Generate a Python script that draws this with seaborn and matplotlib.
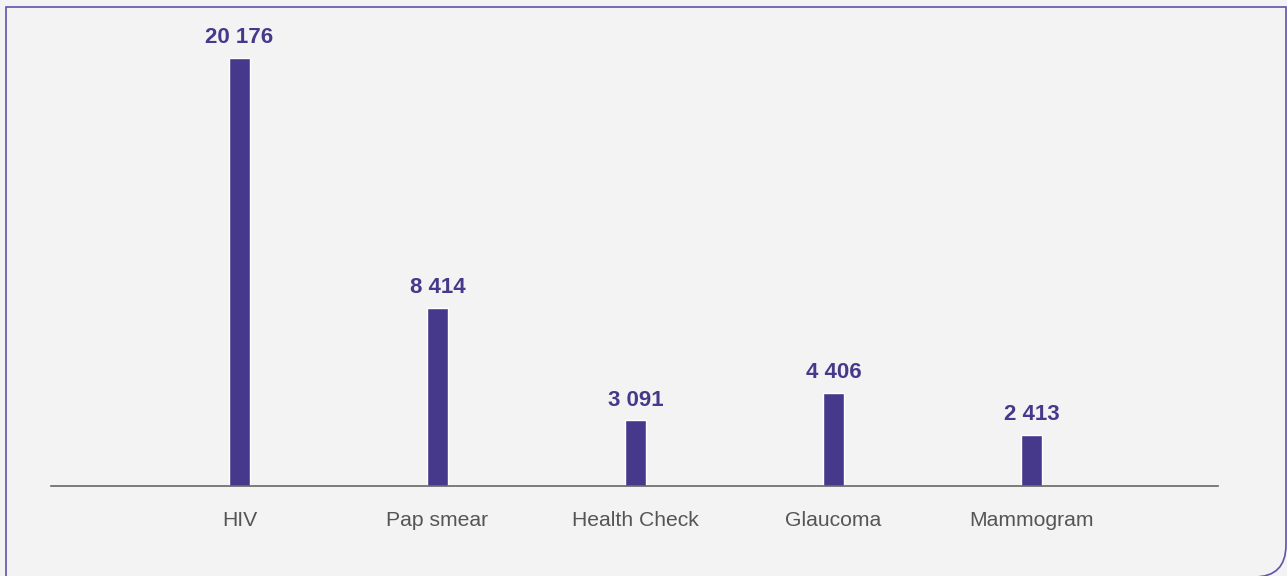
import pandas as pd
import matplotlib
matplotlib.use('Agg')
import matplotlib.pyplot as plt
import seaborn as sns
from matplotlib.path import Path
from matplotlib.patches import PathPatch

# Chart data
categories = ['HIV', 'Pap smear', 'Health Check', 'Glaucoma', 'Mammogram']
tests = [20176, 8414, 3091, 4406, 2413]

bar_color = '#46398b'
bg_color = '#f2f3f2'

sns.set_theme(style='white')
plt.rcParams['font.family'] = ['Liberation Sans', 'DejaVu Sans']

df = pd.DataFrame({'category': categories, 'tests': tests})

W, H = 1287, 576
fig = plt.figure(figsize=(W / 100, H / 100), dpi=100, facecolor=bg_color)
ax = fig.add_axes([51 / W, 90 / H, 1167 / W, 466 / H])
ax.set_facecolor(bg_color)

sns.barplot(data=df, x='category', y='tests', color=bar_color, width=0.108,
            saturation=1, ax=ax)

ax.set_xlim(-0.952, 4.942)
ax.set_ylim(0, 20176 * 466 / 428)

# Value labels with a space as thousands separator
for i, v in enumerate(tests):
    ax.annotate(f'{v:,}'.replace(',', ' '), xy=(i, v), xytext=(0, 7),
                textcoords='offset points', ha='center', va='bottom',
                fontsize=16, fontweight='bold', color=bar_color)

ax.set_xlabel('')
ax.set_ylabel('')
ax.set_yticks([])
ax.tick_params(axis='x', length=0, pad=18, labelsize=15.2, labelcolor='#555555')
for side in ['top', 'left', 'right']:
    ax.spines[side].set_visible(False)
ax.spines['bottom'].set_color('#666666')
ax.spines['bottom'].set_linewidth(1.2)

# Outer frame with a rounded bottom-right corner (bottom edge just off the image)
r = 32
x0, x1 = 6, 1286
y0, y1 = -1, 569
verts = [(x0, y0), (x0, y1), (x1, y1), (x1, y0 + r), (x1, y0), (x1 - r, y0), (x0, y0)]
codes = [Path.MOVETO, Path.LINETO, Path.LINETO, Path.LINETO, Path.CURVE3, Path.CURVE3, Path.LINETO]
verts = [(x / W, y / H) for x, y in verts]
frame = PathPatch(Path(verts, codes), transform=fig.transFigure, facecolor='none',
                  edgecolor='#5f53aa', linewidth=1.2)
fig.patches.append(frame)

plt.savefig('out.png', dpi=100, facecolor=bg_color)
